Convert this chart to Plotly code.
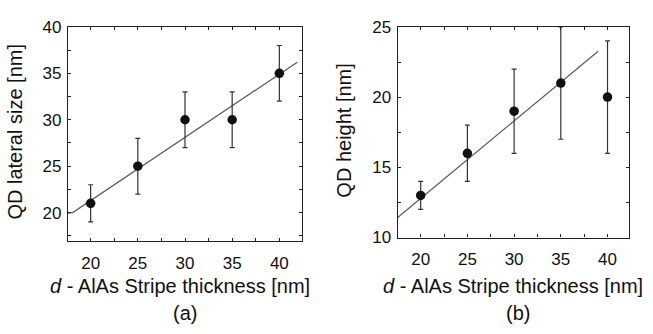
import plotly.graph_objects as go

# Panel (a) data
thick = [20, 25, 30, 35, 40]
lateral = [21, 25, 30, 30, 35]
lateral_err = [2, 3, 3, 3, 3]
fit_a_x = [17.6, 18.1, 41.9]
fit_a_y = [19.95, 20.0, 36.2]

# Panel (b) data
height = [13, 16, 19, 21, 20]
height_err = [1, 2, 3, 4, 4]
fit_b_x = [17.54, 39.0]
fit_b_y = [11.43, 23.27]

xticks = [20, 25, 30, 35, 40]
yticks_a = [20, 25, 30, 35, 40]
yticks_b = [10, 15, 20, 25]

W, H = 653, 334
FONT = "Liberation Sans, Arial, sans-serif"
TFS = 17
LFS = 20

fig = go.Figure()

fig.add_trace(go.Scatter(x=fit_a_x, y=fit_a_y, mode="lines",
                         line=dict(color="#5a5a5a", width=1.2),
                         xaxis="x", yaxis="y", showlegend=False))
fig.add_trace(go.Scatter(x=thick, y=lateral, mode="markers",
                         marker=dict(color="#111111", size=9.5),
                         error_y=dict(type="data", array=lateral_err, color="#333333",
                                      thickness=1.2, width=2.5),
                         xaxis="x", yaxis="y", showlegend=False))

fig.add_trace(go.Scatter(x=fit_b_x, y=fit_b_y, mode="lines",
                         line=dict(color="#5a5a5a", width=1.2),
                         xaxis="x2", yaxis="y2", showlegend=False))
fig.add_trace(go.Scatter(x=thick, y=height, mode="markers",
                         marker=dict(color="#111111", size=9.5),
                         error_y=dict(type="data", array=height_err, color="#333333",
                                      thickness=1.2, width=2.5),
                         xaxis="x2", yaxis="y2", showlegend=False))

def ax(domain, rng, ticks, anchor, tick0, standoff):
    return dict(domain=domain, range=rng, tickvals=ticks, ticktext=[str(t) for t in ticks],
                anchor=anchor, showgrid=False, zeroline=False,
                showline=True, linecolor="#222222", linewidth=1.2, mirror="ticks",
                ticks="inside", ticklen=3, tickwidth=1, tickcolor="#222222",
                ticklabelstandoff=standoff,
                minor=dict(tick0=tick0, dtick=2.5, ticks="inside", ticklen=3, tickwidth=1,
                           tickcolor="#222222"),
                tickfont=dict(family=FONT, size=TFS, color="#111111"))

xa = ax([68 / W, 302 / W], [17.6, 42.4], xticks, "y", 20, 6)
ya = ax([1 - 246 / H, 1 - 19 / H], [16.94, 40], yticks_a, "x", 20, 2)
xb = ax([397.7 / W, 629 / W], [17.54, 42.3], xticks, "y2", 20, 6)
yb = ax([1 - 242.3 / H, 1 - 19 / H], [10, 25], yticks_b, "x2", 10, 2)

fig.update_layout(
    width=W, height=H, margin=dict(l=0, r=0, t=0, b=0),
    paper_bgcolor="white", plot_bgcolor="white",
    xaxis=xa, yaxis=ya, xaxis2=xb, yaxis2=yb,
    font=dict(family=FONT, size=LFS, color="#111111"),
)

def ann(text, x, y, angle=0):
    fig.add_annotation(text=text, x=x / W, y=1 - y / H, xref="paper", yref="paper",
                       showarrow=False, textangle=angle,
                       font=dict(family=FONT, size=LFS, color="#111111"),
                       xanchor="center", yanchor="middle")

ann("<i>d</i> - AlAs Stripe thickness [nm]", 180, 294)
ann("<i>d</i> - AlAs Stripe thickness [nm]", 513, 294)
ann("(a)", 185, 322)
ann("(b)", 518, 322)
ann("QD lateral size [nm]", 15, 130, -90)
ann("QD height [nm]", 344, 129, -90)

fig.write_html("out.html")
